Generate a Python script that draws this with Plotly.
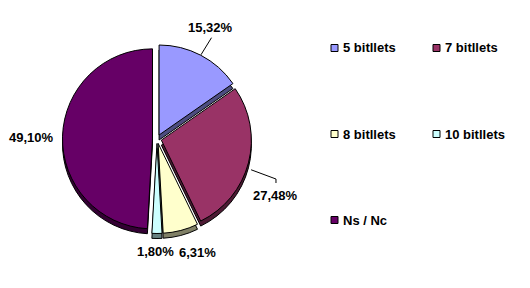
import math
import plotly.graph_objects as go

categories = ["5 bitllets", "7 bitllets", "8 bitllets", "10 bitllets", "Ns / Nc"]
values = [15.32, 27.48, 6.31, 1.80, 49.10]
colors = ["#9999FF", "#993366", "#FFFFCC", "#CCFFFF", "#660066"]
side_colors = ["#4D4D80", "#4D1A33", "#808066", "#668080", "#330033"]
pulls = [0.05, 0.05, 0.05, 0.05, 0.05]

# label placement styling (distance from centre in px, angle offset in degrees)
label_r = [123.5, 131.5, 120, 113, 125.5]
label_dang = [-1.9, 10.6, -4.9, 0.5, -1.1]
leader = [(0.0, 95), (3.5, 99), None, None, None]

W, H = 530, 288
cx, cy, half = 157, 139, 94.5
depth = 5

def dom(offset):
    return dict(x=[(cx - half) / W, (cx + half) / W],
                y=[(H - cy - half - offset) / H, (H - cy + half - offset) / H])

def px(x, y):
    return x / W, (H - y) / H

labels_txt = [f"{v:.2f}".replace(".", ",") + "%" for v in values]
font = dict(family="Liberation Sans, Arial, sans-serif", size=13, color="black")

fig = go.Figure()
fig.add_trace(go.Pie(
    labels=categories, values=values, sort=False, direction="clockwise", rotation=0,
    pull=pulls, domain=dom(depth), textinfo="none", hoverinfo="skip",
    marker=dict(colors=side_colors, line=dict(color="black", width=1)),
    showlegend=False,
))
fig.add_trace(go.Pie(
    labels=categories, values=values, sort=False, direction="clockwise", rotation=0,
    pull=pulls, domain=dom(0), textinfo="none",
    marker=dict(colors=colors, line=dict(color="black", width=1)),
    showlegend=False,
))

shapes, annots = [], []

# data labels at slice mid-angles
total = sum(values)
cum = 0.0
for i, v in enumerate(values):
    mid = (cum + v / 2) / total * 360.0
    cum += v
    a = math.radians(mid + label_dang[i])
    lx = cx + label_r[i] * math.sin(a)
    ly = cy - label_r[i] * math.cos(a)
    x, y = px(lx, ly)
    annots.append(dict(text=f"<b>{labels_txt[i]}</b>", xref="paper", yref="paper",
                       x=x, y=y, xanchor="center", yanchor="middle",
                       showarrow=False, font=font))
    if leader[i] is not None:
        da, rr = leader[i]
        b = math.radians(mid + da)
        sx = cx + rr * math.sin(b)
        sy = cy - rr * math.cos(b)
        if i == 0:
            pts = [(sx, sy), (lx + 1, ly + 10)]
        else:
            pts = [(sx, sy), (lx, ly - 16), (lx, ly - 12)]
        path = "M " + " L ".join(f"{px(p[0], p[1])[0]},{px(p[0], p[1])[1]}" for p in pts)
        shapes.append(dict(type="path", xref="paper", yref="paper", path=path,
                           line=dict(color="black", width=1)))

# legend grid (2 columns)
col_x = [331, 433]
row_y = [48, 134, 220]
for i, (name, c) in enumerate(zip(categories, colors)):
    x0 = col_x[i % 2]
    y0 = row_y[i // 2]
    shapes.append(dict(type="rect", xref="paper", yref="paper",
                       x0=x0 / W, x1=(x0 + 7) / W,
                       y0=(H - y0 - 3.5) / H, y1=(H - y0 + 3.5) / H,
                       fillcolor=c, line=dict(color="black", width=1)))
    annots.append(dict(text=f"<b>{name}</b>", xref="paper", yref="paper",
                       x=(x0 + 10) / W, y=(H - y0) / H, xanchor="left", yanchor="middle",
                       showarrow=False, font=font))

fig.update_layout(
    width=W, height=H, margin=dict(l=0, r=0, t=0, b=0),
    paper_bgcolor="white", plot_bgcolor="white",
    shapes=shapes, annotations=annots,
)
fig.write_html("out.html")
